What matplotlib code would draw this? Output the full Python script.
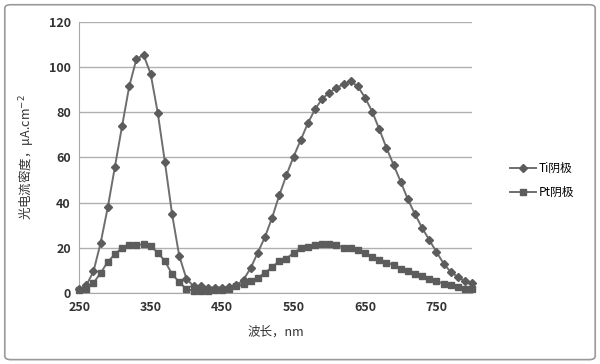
import matplotlib
matplotlib.use("Agg")
import matplotlib.pyplot as plt
from matplotlib.patches import FancyBboxPatch

plt.rcParams['font.family'] = ['Noto Sans CJK SC', 'DejaVu Sans']

# wavelength, nm
wavelength = list(range(250, 801, 10))

# photocurrent density, uA.cm^-2
ti_cathode = [1.6, 3.4, 9.6, 22.2, 37.9, 55.9, 73.9, 91.4, 103.5, 105.4,
              97.0, 79.6, 57.8, 34.9, 16.4, 6.4, 3.0, 3.0, 2.4, 2.4,
              2.4, 2.7, 3.4, 5.9, 11.1, 17.9, 24.8, 33.4, 43.2, 52.2,
              60.3, 67.7, 75.1, 81.3, 85.9, 88.7, 90.8, 92.4, 93.7, 91.4,
              86.5, 80.3, 72.5, 64.2, 56.7, 49.2, 41.4, 34.8, 28.8, 23.4,
              18.2, 13.0, 9.3, 7.1, 5.2, 4.4]
pt_cathode = [1.2, 1.9, 4.4, 8.9, 13.8, 17.2, 20.0, 21.2, 21.2, 21.6,
              20.7, 17.9, 14.1, 8.3, 4.9, 1.7, 1.0, 1.0, 1.0, 1.2,
              1.4, 1.8, 3.0, 4.2, 5.2, 6.8, 8.9, 11.5, 14.1, 15.2,
              17.8, 19.8, 20.4, 21.4, 21.9, 21.9, 21.4, 20.0, 20.0, 18.9,
              17.7, 16.0, 14.8, 13.5, 12.4, 10.8, 9.6, 8.6, 7.5, 6.4,
              5.2, 4.2, 3.4, 2.7, 2.0, 1.6]

xticks = [250, 350, 450, 550, 650, 750]
yticks = [0, 20, 40, 60, 80, 100, 120]

fig = plt.figure(figsize=(6.0, 3.64), dpi=100)
ax = fig.add_axes([0.132, 0.195, 0.655, 0.745])

line_col = '#6e6e6e'
mark_col = '#5c5c5c'
ax.plot(wavelength, ti_cathode, '-D', color=line_col, mfc=mark_col, mec=mark_col,
        ms=4, lw=1.4, label='Ti阴极', zorder=3, clip_on=False)
ax.plot(wavelength, pt_cathode, '-s', color=line_col, mfc=mark_col, mec=mark_col,
        ms=4.5, lw=1.4, label='Pt阴极', zorder=3, clip_on=False)

ax.set_xlim(250, 800)
ax.set_ylim(0, 120)
ax.set_xticks(xticks)
ax.set_yticks(yticks)
ax.grid(axis='y', color='#b0b0b0', lw=1)
ax.set_axisbelow(True)
for s in ['top', 'right']:
    ax.spines[s].set_visible(False)
ax.spines['left'].set_color('#a8a8a8')
ax.spines['bottom'].set_color('#a8a8a8')
ax.tick_params(length=0, labelsize=9, colors='#333333', pad=6)
for lab in ax.get_xticklabels() + ax.get_yticklabels():
    lab.set_fontweight('bold')

ax.set_xlabel('波长，nm', fontsize=9, color='#333333', labelpad=8)
ax.set_ylabel('光电流密度，μA.cm$^{-2}$', fontsize=9, color='#333333', labelpad=10)

ax.legend(loc='center left', bbox_to_anchor=(1.07, 0.415), frameon=False,
          fontsize=8.5, handlelength=2.2, labelspacing=0.9, handletextpad=0.2)

border = FancyBboxPatch((0.008, 0.012), 0.984, 0.975, boxstyle='round,pad=0,rounding_size=0.01',
                        transform=fig.transFigure, fill=False, ec='#999999', lw=1.2)
fig.patches.append(border)

fig.savefig('out.png', dpi=100)
